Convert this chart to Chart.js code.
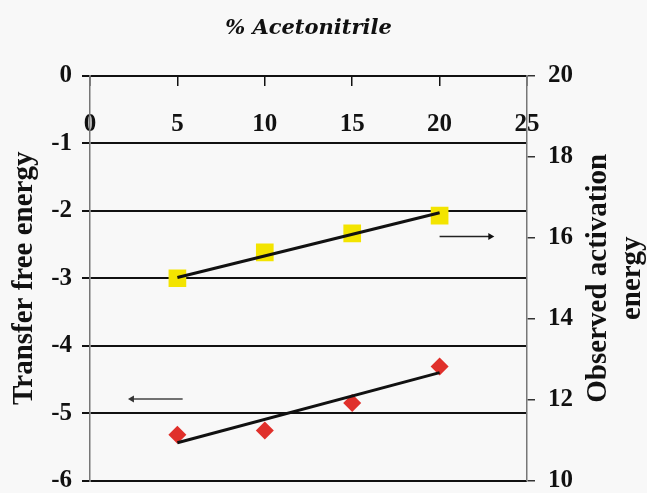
<!DOCTYPE html>
<html>
<head>
<meta charset="utf-8">
<script src="https://cdn.jsdelivr.net/npm/chart.js@4/dist/chart.umd.min.js"></script>
<style>
  html, body { margin: 0; padding: 0; background: #f8f8f8; }
  #wrap { position: relative; width: 647px; height: 493px; }
</style>
</head>
<body>
<div id="wrap"><canvas id="c"></canvas></div>
<script>
// ---- data ----
const pctAcetonitrile = [5, 10, 15, 20];
const transferFreeEnergy = [-5.32, -5.26, -4.85, -4.31];   // left axis, red diamonds
const activationEnergy = [15.0, 15.64, 16.11, 16.55];       // right axis, yellow squares
const trendX = [5, 20];
const transferTrend = [-5.44, -4.40];
const activationTrend = [15.02, 16.62];
// direction arrows (which axis each series belongs to)
const leftArrowX = [5.3, 2.4];
const leftArrowY = [-4.79, -4.79];
const rightArrowX = [20.0, 22.9];
const rightArrowY = [16.03, 16.03];
// axes
const xRange = [0, 25], xStep = 5;
const leftRange = [-6, 0], leftStep = 1;
const rightRange = [10, 20], rightStep = 2;
const xTitle = '% Acetonitrile';
const leftTitle = 'Transfer free energy';
const rightTitle = ['Observed activation', 'energy'];

const pts = (xs, ys) => xs.map((x, i) => ({x, y: ys[i]}));
const serif = "'Liberation Serif', 'Times New Roman', serif";

const rightTitlePlugin = {
  id: 'rightTitle',
  afterDraw(chart) {
    const ctx = chart.ctx, area = chart.chartArea;
    ctx.save();
    ctx.font = "bold 29px " + serif;
    ctx.fillStyle = '#111';
    ctx.textAlign = 'center';
    ctx.textBaseline = 'middle';
    ctx.translate(599, (area.top + area.bottom) / 2);
    ctx.rotate(-Math.PI / 2);
    rightTitle.forEach((t, i) => ctx.fillText(t, 0, i * 34));
    ctx.restore();
  }
};

new Chart(document.getElementById('c'), {
  type: 'scatter',
  data: {
    datasets: [
      { label: 'trend-left', data: pts(trendX, transferTrend), yAxisID: 'y', showLine: true,
        borderColor: '#111', borderWidth: 3, pointRadius: 0 },
      { label: 'trend-right', data: pts(trendX, activationTrend), yAxisID: 'y2', showLine: true,
        borderColor: '#111', borderWidth: 3, pointRadius: 0 },
      { label: 'arrow-left', data: pts(leftArrowX, leftArrowY), yAxisID: 'y', showLine: true,
        borderColor: '#444', borderWidth: 1.5,
        pointRadius: [0, 4], pointStyle: 'triangle', pointRotation: [0, -90],
        backgroundColor: '#333', pointBorderWidth: 0 },
      { label: 'arrow-right', data: pts(rightArrowX, rightArrowY), yAxisID: 'y2', showLine: true,
        borderColor: '#222', borderWidth: 1.5,
        pointRadius: [0, 4], pointStyle: 'triangle', pointRotation: [0, 90],
        backgroundColor: '#111', pointBorderWidth: 0 },
      { label: 'Transfer free energy', data: pts(pctAcetonitrile, transferFreeEnergy), yAxisID: 'y',
        pointStyle: 'rectRot', pointRadius: 9, backgroundColor: '#e0302b', borderColor: '#e0302b', borderWidth: 0 },
      { label: 'Observed activation energy', data: pts(pctAcetonitrile, activationEnergy), yAxisID: 'y2',
        pointStyle: 'rect', pointRadius: 12.5, backgroundColor: '#f3e400', borderColor: '#f3e400', borderWidth: 0 }
    ]
  },
  options: {
    responsive: true,
    maintainAspectRatio: false,
    animation: false,
    events: [],
    layout: { padding: 0 },
    plugins: {
      legend: { display: false },
      tooltip: { enabled: false },
      title: {
        display: true, text: xTitle, color: '#111', fullSize: false,
        font: { family: "'DejaVu Serif', serif", style: 'italic', weight: 'bold', size: 21 },
        padding: { top: 16, bottom: 34.8 }
      }
    },
    scales: {
      x: {
        type: 'linear', position: { y: 0 }, min: xRange[0], max: xRange[1],
        ticks: { stepSize: xStep, color: '#111', padding: 24,
                 font: { family: serif, weight: 'bold', size: 25 } },
        grid: { drawOnChartArea: false, drawTicks: true, tickLength: 10, color: '#111', lineWidth: 1.5 },
        border: { display: false }
      },
      y: {
        type: 'linear', position: 'left', min: leftRange[0], max: leftRange[1],
        ticks: { stepSize: leftStep, color: '#111', padding: 10,
                 font: { family: serif, weight: 'bold', size: 25 } },
        grid: { color: '#111', lineWidth: 2, tickLength: 8 },
        border: { color: '#777', width: 1.5 },
        title: { display: true, text: leftTitle, color: '#111', padding: { top: 7, bottom: 0 },
                 font: { family: serif, weight: 'bold', size: 29 } },
        afterFit(s) { s.width = 90; s.paddingBottom = 11; }
      },
      y2: {
        type: 'linear', position: 'right', min: rightRange[0], max: rightRange[1],
        ticks: { stepSize: rightStep, color: '#111', padding: 13,
                 font: { family: serif, weight: 'bold', size: 25 } },
        grid: { drawOnChartArea: false, color: '#333', lineWidth: 1.5, tickLength: 8 },
        border: { color: '#777', width: 1.5 },
        afterFit(s) { s.width = 120; s.paddingBottom = 11; }
      }
    }
  },
  plugins: [rightTitlePlugin]
});
</script>
</body>
</html>
